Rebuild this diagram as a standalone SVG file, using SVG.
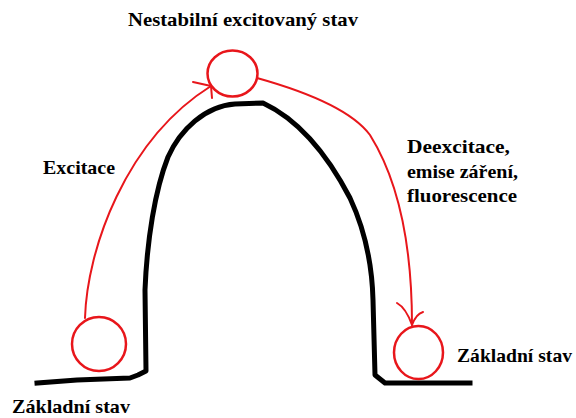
<svg xmlns="http://www.w3.org/2000/svg" width="576" height="418" viewBox="0 0 576 418">
<style>
.lbl{font-family:"Liberation Serif","Times New Roman",serif;font-weight:bold;font-size:19.5px;fill:#000}
.state{fill:none;stroke:#e8161b;stroke-width:2.5}
.conn{fill:none;stroke:#e8161b;stroke-width:2;stroke-linejoin:round;stroke-linecap:round}
.barrier{fill:none;stroke:#000;stroke-width:5;stroke-linejoin:round;stroke-linecap:square}
</style>
<rect width="576" height="418" fill="#fff"/>
<g id="barrier">
<path class="barrier" d="M37,383 L77,380 L130,378 L138,375 L146,371 L145,290 C147,240 155,190 168,157 C180,130 205,106 235,104 L263,103 C295,118 325,150 350,198 C364,228 372,260 373,300 L375,375 L385,383 L470,383"/>
</g>
<g id="excited-state">
<ellipse class="state" cx="232.5" cy="73.5" rx="25" ry="23"/>
<text class="lbl" x="128" y="26" textLength="230" lengthAdjust="spacingAndGlyphs">Nestabilní excitovaný stav</text>
</g>
<g id="ground-state-left">
<circle class="state" cx="99" cy="344" r="27"/>
<text class="lbl" x="12" y="413" textLength="118" lengthAdjust="spacingAndGlyphs">Základní stav</text>
</g>
<g id="ground-state-right">
<ellipse class="state" cx="418.5" cy="352.5" rx="24.5" ry="26.5"/>
<text class="lbl" x="457" y="362" textLength="115" lengthAdjust="spacingAndGlyphs">Základní stav</text>
</g>
<g id="connectors">
<g id="excitation">
<path class="conn" d="M85,318 C87,250 125,140 211,86"/>
<path class="conn" d="M193,82 L211,86 L212,98"/>
<text class="lbl" x="43" y="174" textLength="72" lengthAdjust="spacingAndGlyphs">Excitace</text>
</g>
<g id="deexcitation">
<path class="conn" d="M257,78 C300,90 350,108 370,135 C395,175 412,235 412,325"/>
<path class="conn" d="M397,303 Q406,308 412,325 Q416,314 423,312"/>
<text class="lbl" x="407" y="153" textLength="103" lengthAdjust="spacingAndGlyphs">Deexcitace,</text>
<text class="lbl" x="407" y="178" textLength="111" lengthAdjust="spacingAndGlyphs">emise záření,</text>
<text class="lbl" x="407" y="202" textLength="110" lengthAdjust="spacingAndGlyphs">fluorescence</text>
</g>
</g>
</svg>
